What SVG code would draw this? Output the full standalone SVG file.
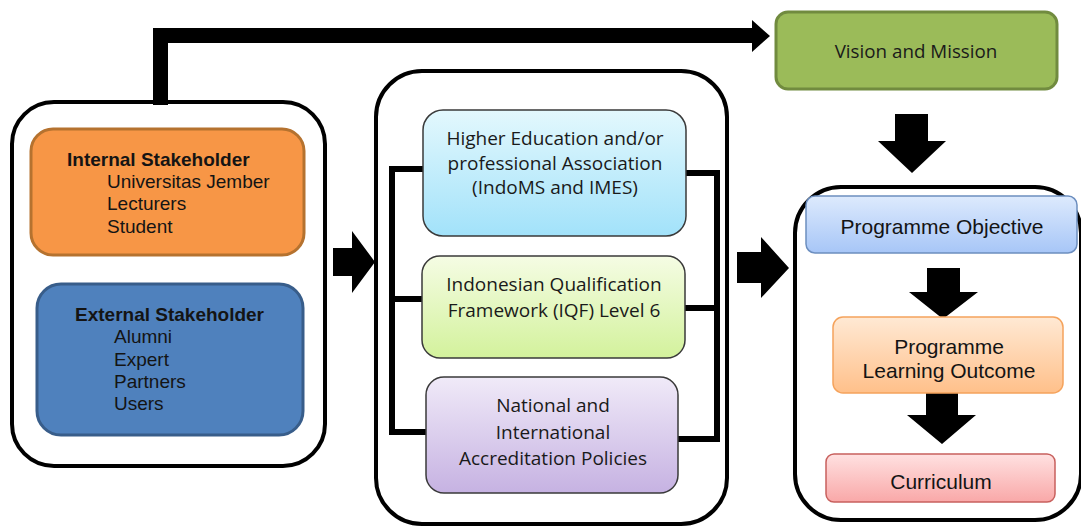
<svg xmlns="http://www.w3.org/2000/svg" width="1081" height="527" viewBox="0 0 1081 527">
<defs>
<linearGradient id="gCyan" x1="0" y1="0" x2="0" y2="1"><stop offset="0" stop-color="#E3F8FD"/><stop offset="1" stop-color="#A2E2FA"/></linearGradient>
<linearGradient id="gLime" x1="0" y1="0" x2="0" y2="1"><stop offset="0" stop-color="#F5FCE4"/><stop offset="1" stop-color="#D3F29C"/></linearGradient>
<linearGradient id="gLav" x1="0" y1="0" x2="0" y2="1"><stop offset="0" stop-color="#F0EAF8"/><stop offset="1" stop-color="#C6B2E2"/></linearGradient>
<linearGradient id="gBlue" x1="0" y1="0" x2="0" y2="1"><stop offset="0" stop-color="#DDEAFD"/><stop offset="1" stop-color="#A7C6F7"/></linearGradient>
<linearGradient id="gOrange" x1="0" y1="0" x2="0" y2="1"><stop offset="0" stop-color="#FFE9D4"/><stop offset="1" stop-color="#FFC08A"/></linearGradient>
<linearGradient id="gRed" x1="0" y1="0" x2="0" y2="1"><stop offset="0" stop-color="#FFE1E1"/><stop offset="1" stop-color="#F9A8A8"/></linearGradient>
</defs>
<style>
.container{fill:#fff;stroke:#000;stroke-width:4}
.arial{font-family:"Liberation Sans",Arial,sans-serif;fill:#141414}
.cal{font-family:"Open Sans","Noto Sans",sans-serif;fill:#1a1a1a}
.mid{stroke:#3a3a3a;stroke-width:1.5}
.conn{fill:#000}
.bracket{fill:none;stroke:#000;stroke-width:6}
</style>

<g id="containers">
<rect id="left-container" class="container" x="12" y="102" width="313" height="364" rx="42"/>
<rect id="middle-container" class="container" x="376" y="71" width="351" height="453" rx="46"/>
<rect id="right-container" class="container" x="795" y="187" width="286" height="333" rx="46"/>
</g>

<g id="connectors">
<path class="conn" d="M153 105 V28 H752 V20 L770 36 L752 52 V43 H168 V105 Z"/>
<path class="conn" d="M333 248 H352 V231 L375 262 L352 293 V276 H333 Z"/>
<path class="conn" d="M737 252 H761 V237 L789 268 L761 298 V283 H737 Z"/>
<path class="conn" d="M895 114 H928 V141 H946 L912 173 L878 141 H895 Z"/>
<path class="conn" d="M927 268 H960 V292 H978 L943 319 L909 292 H927 Z"/>
<path class="conn" d="M926 392 H958 V415 H976 L942 444 L907 415 H926 Z"/>
<path class="bracket" d="M423 169 H392 V432 H426 M392 299 H422"/>
<path class="bracket" d="M686 173 H717 V439 H678 M685 308 H717"/>
</g>

<g id="internal-stakeholder">
<rect x="31" y="129" width="273" height="126" rx="22" fill="#F79646" stroke="#B5722F" stroke-width="3"/>
<text class="arial" x="67" y="166" font-size="19" font-weight="bold">Internal Stakeholder</text>
<text class="arial" x="107" y="188" font-size="19">Universitas Jember</text>
<text class="arial" x="107" y="210" font-size="19">Lecturers</text>
<text class="arial" x="107" y="233" font-size="19">Student</text>
</g>

<g id="external-stakeholder">
<rect x="37" y="284" width="266" height="151" rx="24" fill="#4F81BD" stroke="#385D8A" stroke-width="3"/>
<text class="arial" x="75" y="321" font-size="19" font-weight="bold">External Stakeholder</text>
<text class="arial" x="114" y="343" font-size="19">Alumni</text>
<text class="arial" x="114" y="366" font-size="19">Expert</text>
<text class="arial" x="114" y="388" font-size="19">Partners</text>
<text class="arial" x="114" y="410" font-size="19">Users</text>
</g>

<g id="higher-education">
<rect class="mid" x="423" y="110" width="263" height="126" rx="20" fill="url(#gCyan)"/>
<text class="cal" x="555" y="145" font-size="19" text-anchor="middle">Higher Education and/or</text>
<text class="cal" x="555" y="170" font-size="19" text-anchor="middle">professional Association</text>
<text class="cal" x="555" y="194" font-size="19" text-anchor="middle">(IndoMS and IMES)</text>
</g>

<g id="iqf">
<rect class="mid" x="422" y="256" width="263" height="102" rx="18" fill="url(#gLime)"/>
<text class="cal" x="554" y="291" font-size="19" text-anchor="middle">Indonesian Qualification</text>
<text class="cal" x="554" y="317" font-size="19" text-anchor="middle">Framework (IQF) Level 6</text>
</g>

<g id="accreditation">
<rect class="mid" x="426" y="377" width="252" height="116" rx="18" fill="url(#gLav)"/>
<text class="cal" x="553" y="412" font-size="19" text-anchor="middle">National and</text>
<text class="cal" x="553" y="439" font-size="19" text-anchor="middle">International</text>
<text class="cal" x="553" y="465" font-size="19" text-anchor="middle">Accreditation Policies</text>
</g>

<g id="vision-mission">
<rect x="776" y="12" width="281" height="77" rx="12" fill="#9BBB59" stroke="#718B3F" stroke-width="3"/>
<text class="cal" x="916" y="58" font-size="18.8" text-anchor="middle">Vision and Mission</text>
</g>

<g id="programme-objective">
<rect x="806" y="196" width="271" height="57" rx="9" fill="url(#gBlue)" stroke="#6C8EBF" stroke-width="1.5"/>
<text class="arial" x="942" y="234" font-size="21" text-anchor="middle">Programme Objective</text>
</g>

<g id="programme-learning-outcome">
<rect x="833" y="317" width="230" height="76" rx="10" fill="url(#gOrange)" stroke="#F5A35C" stroke-width="1.5"/>
<text class="arial" x="949" y="354" font-size="21" text-anchor="middle">Programme</text>
<text class="arial" x="949" y="378" font-size="21" text-anchor="middle">Learning Outcome</text>
</g>

<g id="curriculum">
<rect x="826" y="454" width="229" height="48" rx="8" fill="url(#gRed)" stroke="#C8605D" stroke-width="1.5"/>
<text class="arial" x="941" y="489" font-size="21" text-anchor="middle">Curriculum</text>
</g>
</svg>
